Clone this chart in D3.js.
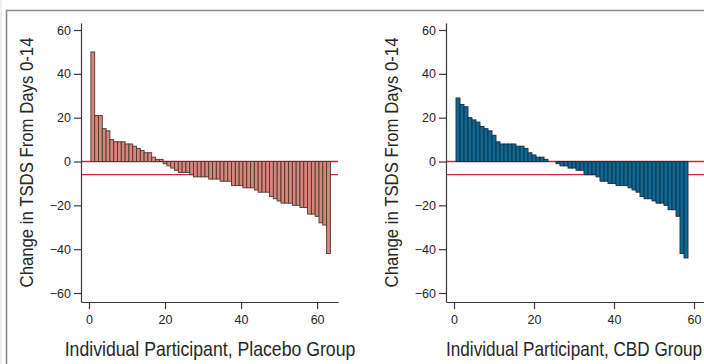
<!DOCTYPE html>
<html>
<head>
<meta charset="utf-8">
<script src="https://cdn.jsdelivr.net/npm/d3@7"></script>
<style>
  html, body { margin: 0; padding: 0; background: #fff; }
  svg { display: block; }
</style>
</head>
<body>
<div id="chart-container"></div>
<script>
// Change in TSDS per participant, sorted
const placeboChange = [50, 21, 21, 15, 14, 10, 9, 9, 9, 8, 8, 7, 6, 5, 4, 4, 2, 1, 1,
  -1, -2, -3, -4, -5, -5, -5, -6, -7, -7, -7, -7, -8, -8, -8, -9, -9, -9,
  -11, -11, -11, -12, -12, -12, -13, -14, -14, -14, -16, -17, -18, -19, -19, -19,
  -20, -20, -21, -21, -24, -24, -25, -28, -29, -42];
const cbdChange = [29, 26, 25, 20, 19, 18, 16, 15, 14, 12, 9, 8, 8, 8, 8, 7, 7, 6, 4, 3, 2, 2, 1,
  0, 0, -1, -2, -2, -3, -3, -4, -4, -6, -6, -6, -7, -9, -9, -10, -10,
  -11, -11, -11, -12, -13, -14, -16, -17, -17, -18, -19, -19, -20, -22, -22, -25, -42, -44];
const refLines = [0, -6];
const yTicks = [-60, -40, -20, 0, 20, 40, 60];
const xTicks = [0, 20, 40, 60];
const yTitle = "Change in TSDS From Days 0-14";
const panelTitles = ["Individual Participant, Placebo Group", "Individual Participant, CBD Group"];

const width = 704;
const height = 364;

const svg = d3.select('#chart-container')
  .append('svg')
  .attr('width', width)
  .attr('height', height);

// outer frame of the figure
svg.append("line")
  .attr("x1", 1).attr("x2", 1).attr("y1", 0).attr("y2", height)
  .attr("stroke", "#dddddd").attr("stroke-width", 1);
svg.append("path")
  .attr("d", `M6.5,${height} V10.5 H${width}`)
  .attr("fill", "none")
  .attr("stroke", "#8c8c8c")
  .attr("stroke-width", 1.6);

const panels = [
  { values: placeboChange, fill: "#d8857a", stroke: "#4a3632", axisX: 81, xDomain: [-2.1, 65.5], xRange: [81, 338], lineEnd: 338, title: panelTitles[0], titleX: 210, titleLen: 291 },
  { values: cbdChange, fill: "#0c6a9b", stroke: "#1c2c36", axisX: 446, xDomain: [-2, 64.5], xRange: [446, 712], lineEnd: 712, title: panelTitles[1], titleX: 574, titleLen: 256 }
];

const y = d3.scaleLinear().domain([-64.1, 63.2]).range([302, 23]);

// squeeze a text horizontally so it takes the wanted length (condensed face look)
const condense = (sel, wanted, translate, rotate) => {
  const natural = sel.node().getComputedTextLength();
  sel.attr("transform", `translate(${translate}) rotate(${rotate}) scale(${wanted / natural},1)`);
};

panels.forEach((p) => {
  const x = d3.scaleLinear().domain(p.xDomain).range(p.xRange);
  const g = svg.append("g");

  // reference lines sit behind the bars
  g.selectAll("line.ref")
    .data(refLines)
    .enter()
    .append("line")
    .attr("class", "ref")
    .attr("x1", p.axisX).attr("x2", p.lineEnd)
    .attr("y1", (d) => y(d)).attr("y2", (d) => y(d))
    .attr("stroke", "#c8283e")
    .attr("stroke-width", 1.4);

  // bars, one per participant
  g.selectAll("rect.bar")
    .data(p.values)
    .enter()
    .append("rect")
    .attr("class", "bar")
    .attr("x", (d, i) => x(i + 0.5))
    .attr("width", (d, i) => x(i + 1.5) - x(i + 0.5))
    .attr("y", (d) => y(Math.max(0, d)))
    .attr("height", (d) => Math.abs(y(d) - y(0)))
    .attr("fill", p.fill)
    .attr("stroke", p.stroke)
    .attr("stroke-width", 0.9);

  // y axis
  const yAxis = g.append("g")
    .attr("transform", `translate(${p.axisX},0)`)
    .call(d3.axisLeft(y).tickValues(yTicks).tickSize(7).tickPadding(3).tickSizeOuter(0));
  yAxis.select(".domain").attr("stroke", "#3a3a3a").attr("stroke-width", 1.2);
  yAxis.selectAll(".tick line").attr("stroke", "#3a3a3a").attr("stroke-width", 1.2);
  yAxis.selectAll(".tick text")
    .attr("fill", "#262626")
    .style("font-family", "'Liberation Sans', Arial, sans-serif")
    .style("font-size", "12.5px");

  // x axis
  const xAxis = g.append("g")
    .attr("transform", "translate(0,302)")
    .call(d3.axisBottom(x).tickValues(xTicks).tickSize(7).tickPadding(6).tickSizeOuter(0));
  xAxis.select(".domain").attr("stroke", "#3a3a3a").attr("stroke-width", 1.2);
  xAxis.selectAll(".tick line").attr("stroke", "#3a3a3a").attr("stroke-width", 1.2);
  xAxis.selectAll(".tick text")
    .attr("fill", "#262626")
    .style("font-family", "'Liberation Sans', Arial, sans-serif")
    .style("font-size", "12.5px");

  // titles
  const yt = g.append("text")
    .attr("text-anchor", "middle")
    .attr("fill", "#262626")
    .style("font-family", "'Liberation Sans', Arial, sans-serif")
    .style("font-size", "18px")
    .text(yTitle);
  condense(yt, 250, `${p.axisX - 48},${(y(63.2) + y(-64.1)) / 2}`, -90);

  const xt = g.append("text")
    .attr("text-anchor", "middle")
    .attr("fill", "#262626")
    .style("font-family", "'Liberation Sans', Arial, sans-serif")
    .style("font-size", "20px")
    .text(p.title);
  condense(xt, p.titleLen, `${p.titleX},356`, 0);
});
</script>
</body>
</html>
